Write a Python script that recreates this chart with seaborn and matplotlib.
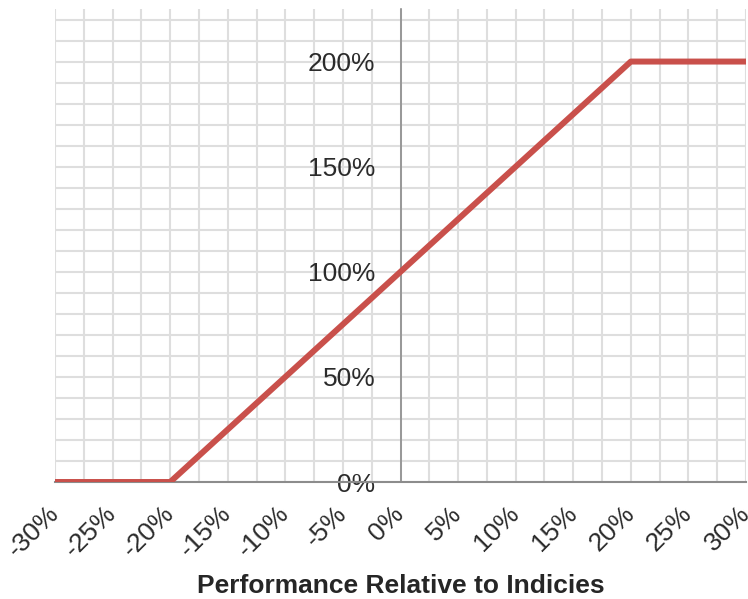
import matplotlib
matplotlib.use("Agg")
import matplotlib.pyplot as plt
import seaborn as sns
import pandas as pd
from matplotlib.ticker import MultipleLocator, FuncFormatter

# Data
performance = [-30, -20, 20, 30]
payout = [0, 0, 200, 200]
x_label = "Performance Relative to Indicies"

sns.set_theme(style="white")
plt.rcParams['font.family'] = ['Liberation Sans', 'DejaVu Sans']

df = pd.DataFrame({"perf": performance, "payout": payout})

fig = plt.figure(figsize=(7.48, 5.99), dpi=100)
ax = fig.add_axes([55/748, 1-482/599, (746-55)/748, (482-9)/599])

sns.lineplot(data=df, x="perf", y="payout", ax=ax, color="#C9504B",
             linewidth=4.3, zorder=5, solid_capstyle="butt")

ax.set_xlim(-30, 30)
ax.set_ylim(0, 225)

ax.xaxis.set_major_locator(MultipleLocator(5))
ax.xaxis.set_minor_locator(MultipleLocator(2.5))
ax.yaxis.set_major_locator(MultipleLocator(50))
ax.yaxis.set_minor_locator(MultipleLocator(10))
pct = FuncFormatter(lambda v, p: f"{v:.0f}%")
ax.xaxis.set_major_formatter(pct)
ax.yaxis.set_major_formatter(pct)

ax.grid(True, which="both", color="#dedede", linewidth=1.5)
ax.set_axisbelow(True)

for s in ["top", "right"]:
    ax.spines[s].set_visible(False)
ax.spines["left"].set_position(("data", 0))
ax.spines["left"].set_color("#8c8c8c")
ax.spines["left"].set_linewidth(1.2)
ax.spines["bottom"].set_color("#8c8c8c")
ax.spines["bottom"].set_linewidth(1.5)
ax.spines["left"].set_zorder(3)

ax.tick_params(axis="x", which="major", direction="out", length=5, width=1.2,
               color="#8c8c8c", labelsize=19, labelcolor="#2b2b2b", pad=15)
ax.tick_params(axis="y", which="major", direction="out", length=5, width=1.2,
               color="#8c8c8c", labelsize=19, labelcolor="#2b2b2b", pad=13)
ax.tick_params(which="minor", length=0)

for lbl in ax.get_xticklabels():
    lbl.set_rotation(45)
    lbl.set_ha("right")
    lbl.set_va("center")
    lbl.set_rotation_mode("anchor")

ax.set_ylabel("")
ax.set_xlabel(x_label, fontsize=19, fontweight="bold", color="#262626", labelpad=9)

fig.savefig("out.png", dpi=100)
